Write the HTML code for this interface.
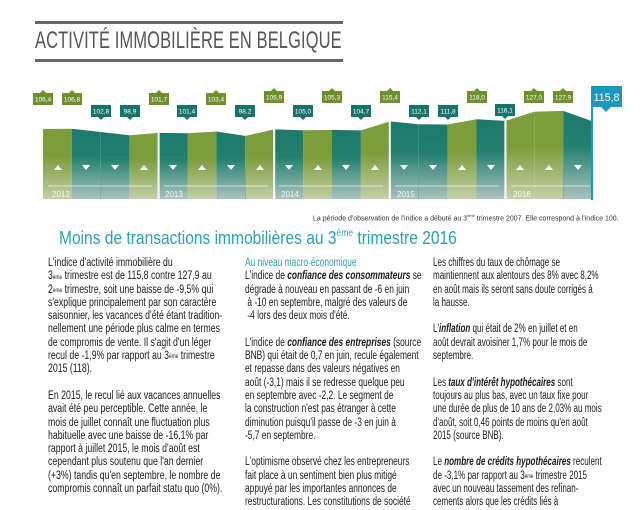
<!DOCTYPE html>
<html><head><meta charset="utf-8"><style>
*{margin:0;padding:0}
body{width:640px;height:480px;background:#fff;overflow:hidden;position:relative;font-family:"Liberation Sans",sans-serif;}
.rule{position:absolute;left:35px;width:308px;height:3px;background:#666}
.title{position:absolute;left:35px;top:27px;font-size:24px;color:#555;letter-spacing:0.2px;transform:scaleX(0.685);transform-origin:left top;white-space:nowrap}
.note{position:absolute;left:313px;top:213px;font-size:7px;color:#333;white-space:nowrap;transform:scaleX(1.0);transform-origin:left top}
.h2{position:absolute;left:59px;top:228px;font-size:18px;color:#2a9fb5;white-space:nowrap;transform:scaleX(0.864);transform-origin:left top}
.h2 sup,.col sup{font-size:0.55em;vertical-align:top;position:relative;top:0.05em}
.col{position:absolute;top:257px;font-size:11.5px;line-height:13.3px;color:#1a1a1a;white-space:nowrap;transform:scaleX(0.76);transform-origin:left top}
.col b{font-style:italic}
.sub{color:#2a9fb5}
</style></head><body>
<div class="rule" style="top:21px"></div>
<div class="title">ACTIVITÉ IMMOBILIÈRE EN BELGIQUE</div>
<div class="rule" style="top:59px"></div>

<svg width="640" height="210" style="position:absolute;left:0;top:0" xmlns="http://www.w3.org/2000/svg">
<defs>
<linearGradient id="g" x1="0" y1="0" x2="0" y2="1"><stop offset="0" stop-color="#7d9c3c"/><stop offset="0.4" stop-color="#7d9c3c"/><stop offset="1" stop-color="#c2d0a8"/></linearGradient>
<linearGradient id="t" x1="0" y1="0" x2="0" y2="1"><stop offset="0" stop-color="#1c7a6c"/><stop offset="0.4" stop-color="#23806f"/><stop offset="1" stop-color="#a9c3bd"/></linearGradient>
</defs>
<g>
<polygon fill="url(#g)" points="43,129 71.9,128.7 71.9,199 43,199"/>
<polygon fill="url(#t)" points="71.9,128.7 100.8,132 100.8,199 71.9,199"/>
<polygon fill="url(#t)" points="100.8,132 129.7,135.3 129.7,199 100.8,199"/>
<polygon fill="url(#g)" points="129.7,135.3 158.6,132.9 158.6,199 129.7,199"/>
<polygon fill="url(#t)" points="158.6,132.9 187.5,133.2 187.5,199 158.6,199"/>
<polygon fill="url(#g)" points="187.5,133.2 216.4,131.5 216.4,199 187.5,199"/>
<polygon fill="url(#t)" points="216.4,131.5 245.3,135.9 245.3,199 216.4,199"/>
<polygon fill="url(#g)" points="245.3,135.9 274.2,129.4 274.2,199 245.3,199"/>
<polygon fill="url(#t)" points="274.2,129.4 303.1,130.2 303.1,199 274.2,199"/>
<polygon fill="url(#g)" points="303.1,130.2 332,129.9 332,199 303.1,199"/>
<polygon fill="url(#t)" points="332,129.9 360.9,130.4 360.9,199 332,199"/>
<polygon fill="url(#g)" points="360.9,130.4 389.8,121.4 389.8,199 360.9,199"/>
<polygon fill="url(#t)" points="389.8,121.4 418.7,124.2 418.7,199 389.8,199"/>
<polygon fill="url(#t)" points="418.7,124.2 447.6,124.5 447.6,199 418.7,199"/>
<polygon fill="url(#g)" points="447.6,124.5 476.5,119.3 476.5,199 447.6,199"/>
<polygon fill="url(#t)" points="476.5,119.3 505.4,120.9 505.4,199 476.5,199"/>
<polygon fill="url(#g)" points="505.4,120.9 534.3,111.7 534.3,199 505.4,199"/>
<polygon fill="url(#g)" points="534.3,111.7 563.2,110.9 563.2,199 534.3,199"/>
<polygon fill="url(#t)" points="563.2,110.9 592,121.1 592,199 563.2,199"/>
</g>
<g stroke="#5f7f70" stroke-width="0.6" opacity="0.6">
<line x1="100.8" y1="168" x2="100.8" y2="199"/><line x1="245.3" y1="168" x2="245.3" y2="199"/><line x1="418.7" y1="168" x2="418.7" y2="199"/><line x1="563.2" y1="168" x2="563.2" y2="199"/>
</g>
<g stroke="#fff" stroke-width="2">
<line x1="158.6" y1="130" x2="158.6" y2="200"/><line x1="274.2" y1="128" x2="274.2" y2="200"/><line x1="389.8" y1="120" x2="389.8" y2="200"/><line x1="505.4" y1="119" x2="505.4" y2="200"/>
</g>
<g stroke="#fff" stroke-width="0.8" opacity="0.85">
<line x1="48" y1="186" x2="152" y2="186"/><line x1="164" y1="186" x2="268" y2="186"/><line x1="279" y1="186" x2="383" y2="186"/><line x1="395" y1="186" x2="499" y2="186"/><line x1="511" y1="186" x2="590" y2="186"/>
</g>
<g fill="#fff" font-size="8" font-family="Liberation Sans,sans-serif" opacity="0.9">
<text x="52" y="197">2012</text><text x="165" y="197">2013</text><text x="281" y="197">2014</text><text x="397" y="197">2015</text><text x="513" y="197">2016</text>
</g>
<g fill="#fff">
<polygon points="54,170 62,170 58,165"/>
<polygon points="82,165 90,165 86,170"/>
<polygon points="111,165 119,165 115,170"/>
<polygon points="140,170 148,170 144,165"/>
<polygon points="169,165 177,165 173,170"/>
<polygon points="198,170 206,170 202,165"/>
<polygon points="227,165 235,165 231,170"/>
<polygon points="256,170 264,170 260,165"/>
<polygon points="285,165 293,165 289,170"/>
<polygon points="314,170 322,170 318,165"/>
<polygon points="342,165 350,165 346,170"/>
<polygon points="371,170 379,170 375,165"/>
<polygon points="400,165 408,165 404,170"/>
<polygon points="429,165 437,165 433,170"/>
<polygon points="458,170 466,170 462,165"/>
<polygon points="487,165 495,165 491,170"/>
<polygon points="516,170 524,170 520,165"/>
<polygon points="545,170 553,170 549,165"/>
<polygon points="574,165 582,165 578,170"/>
</g>
<g font-size="6.5" font-family="Liberation Sans,sans-serif" fill="#fff" text-anchor="middle">
<g fill="#6e8f2e"><rect x="33" y="93" width="20" height="12"/><polygon points="40,93 46,93 43,90"/></g><text x="43" y="101.5">106,4</text>
<g fill="#6e8f2e"><rect x="62" y="93" width="20" height="12"/><polygon points="69,93 75,93 72,90"/></g><text x="72" y="101.5">106,8</text>
<g fill="#16736a"><rect x="91" y="105" width="20" height="12"/><polygon points="98,117 104,117 101,120"/></g><text x="101" y="113.5">102,8</text>
<g fill="#16736a"><rect x="120" y="105" width="20" height="12"/><polygon points="127,117 133,117 130,120"/></g><text x="130" y="113.5">98,9</text>
<g fill="#6e8f2e"><rect x="149" y="93" width="20" height="12"/><polygon points="156,93 162,93 159,90"/></g><text x="159" y="101.5">101,7</text>
<g fill="#16736a"><rect x="177" y="105" width="20" height="12"/><polygon points="184,117 190,117 187,120"/></g><text x="187" y="113.5">101,4</text>
<g fill="#6e8f2e"><rect x="206" y="93" width="20" height="12"/><polygon points="213,93 219,93 216,90"/></g><text x="216" y="101.5">103,4</text>
<g fill="#16736a"><rect x="235" y="105" width="20" height="12"/><polygon points="242,117 248,117 245,120"/></g><text x="245" y="113.5">98,2</text>
<g fill="#6e8f2e"><rect x="264" y="91" width="20" height="12"/><polygon points="271,91 277,91 274,88"/></g><text x="274" y="99.5">105,9</text>
<g fill="#16736a"><rect x="293" y="105" width="20" height="12"/><polygon points="300,117 306,117 303,120"/></g><text x="303" y="113.5">105,0</text>
<g fill="#6e8f2e"><rect x="322" y="91" width="20" height="12"/><polygon points="329,91 335,91 332,88"/></g><text x="332" y="99.5">105,3</text>
<g fill="#16736a"><rect x="351" y="105" width="20" height="12"/><polygon points="358,117 364,117 361,120"/></g><text x="361" y="113.5">104,7</text>
<g fill="#6e8f2e"><rect x="380" y="91" width="20" height="12"/><polygon points="387,91 393,91 390,88"/></g><text x="390" y="99.5">115,4</text>
<g fill="#16736a"><rect x="409" y="105" width="20" height="12"/><polygon points="416,117 422,117 419,120"/></g><text x="419" y="113.5">112,1</text>
<g fill="#16736a"><rect x="438" y="105" width="20" height="12"/><polygon points="445,117 451,117 448,120"/></g><text x="448" y="113.5">111,8</text>
<g fill="#6e8f2e"><rect x="467" y="91" width="20" height="12"/><polygon points="474,91 480,91 477,88"/></g><text x="477" y="99.5">118,0</text>
<g fill="#16736a"><rect x="495" y="104" width="20" height="12"/><polygon points="502,116 508,116 505,119"/></g><text x="505" y="112.5">116,1</text>
<g fill="#6e8f2e"><rect x="524" y="91" width="20" height="12"/><polygon points="531,91 537,91 534,88"/></g><text x="534" y="99.5">127,0</text>
<g fill="#6e8f2e"><rect x="553" y="91" width="20" height="12"/><polygon points="560,91 566,91 563,88"/></g><text x="563" y="99.5">127,9</text>
</g>
<rect x="591" y="86" width="2" height="114" fill="#1a98c0"/>
<rect x="591" y="86" width="31" height="21" fill="#1a98c0"/>
<polygon points="601,107 611,107 606,112" fill="#1a98c0"/>
<text x="606.5" y="101" font-size="11" font-family="Liberation Sans,sans-serif" fill="#fff" text-anchor="middle" textLength="26" lengthAdjust="spacingAndGlyphs">115,8</text>
</svg>

<div class="note">La période d'observation de l'indice a débuté au 3<sup style="font-size:4px">ème</sup> trimestre 2007. Elle correspond à l'indice 100.</div>
<div class="h2">Moins de transactions immobilières au 3<sup>ème</sup> trimestre 2016</div>

<div class="col" style="left:48px">
L'indice d'activité immobilière du<br>
3<sup>ème</sup> trimestre est de 115,8 contre 127,9 au<br>
2<sup>ème</sup> trimestre, soit une baisse de -9,5% qui<br>
s'explique principalement par son caractère<br>
saisonnier, les vacances d'été étant tradition-<br>
nellement une période plus calme en termes<br>
de compromis de vente. Il s'agit d'un léger<br>
recul de -1,9% par rapport au 3<sup>ème</sup> trimestre<br>
2015 (118).<br><br>
En 2015, le recul lié aux vacances annuelles<br>
avait été peu perceptible. Cette année, le<br>
mois de juillet connaît une fluctuation plus<br>
habituelle avec une baisse de -16,1% par<br>
rapport à juillet 2015, le mois d'août est<br>
cependant plus soutenu que l'an dernier<br>
(+3%) tandis qu'en septembre, le nombre de<br>
compromis connaît un parfait statu quo (0%).
</div>
<div class="col" style="left:245px;transform:scaleX(0.73)">
<span class="sub">Au niveau macro-économique</span><br>
L'indice de <b>confiance des consommateurs</b> se<br>
dégrade à nouveau en passant de -6 en juin<br>
&nbsp;à -10 en septembre, malgré des valeurs de<br>
&nbsp;-4 lors des deux mois d'été.<br><br>
L'indice de <b>confiance des entreprises</b> (source<br>
BNB) qui était de 0,7 en juin, recule également<br>
et repasse dans des valeurs négatives en<br>
août (-3,1) mais il se redresse quelque peu<br>
en septembre avec -2,2. Le segment de<br>
la construction n'est pas étranger à cette<br>
diminution puisqu'il passe de -3 en juin à<br>
-5,7 en septembre.<br><br>
L'optimisme observé chez les entrepreneurs<br>
fait place à un sentiment bien plus mitigé<br>
appuyé par les importantes annonces de<br>
restructurations. Les constitutions de société
</div>
<div class="col" style="left:433px;transform:scaleX(0.70)">
Les chiffres du taux de chômage se<br>
maintiennent aux alentours des 8% avec 8,2%<br>
en août mais ils seront sans doute corrigés à<br>
la hausse.<br><br>
L'<b>inflation</b> qui était de 2% en juillet et en<br>
août devrait avoisiner 1,7% pour le mois de<br>
septembre.<br><br>
Les <b>taux d'intérêt hypothécaires</b> sont<br>
toujours au plus bas, avec un taux fixe pour<br>
une durée de plus de 10 ans de 2,03% au mois<br>
d'août, soit 0,46 points de moins qu'en août<br>
2015 (source BNB).<br><br>
Le <b>nombre de crédits hypothécaires</b> reculent<br>
de -3,1% par rapport au 3<sup>ème</sup> trimestre 2015<br>
avec un nouveau tassement des refinan-<br>
cements alors que les crédits liés à
</div>
</body></html>
